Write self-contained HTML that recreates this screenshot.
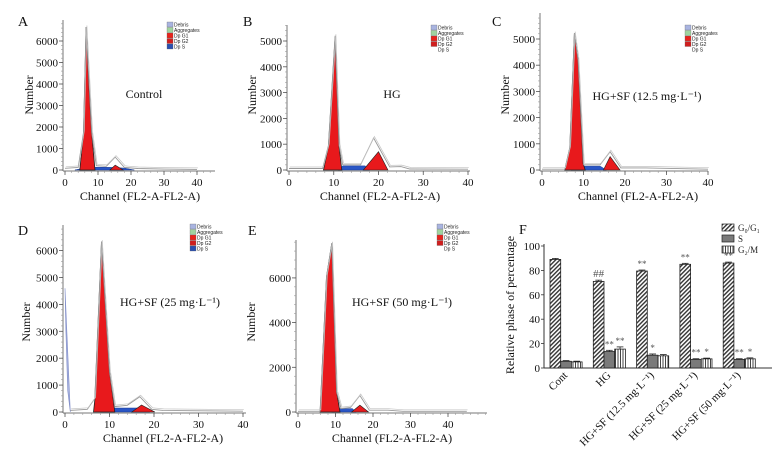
<!DOCTYPE html>
<html><head><meta charset="utf-8">
<style>
html,body{margin:0;padding:0;background:#fff;}
svg{display:block;font-family:"Liberation Serif",serif;}
</style></head>
<body>
<svg id="fig" width="782" height="452" viewBox="0 0 782 452" xmlns="http://www.w3.org/2000/svg">
<defs>
<pattern id="diag" patternUnits="userSpaceOnUse" width="3" height="3" patternTransform="rotate(45)">
<rect width="3" height="3" fill="#fff"/><rect width="1.4" height="3" fill="#333"/></pattern>
<pattern id="vert" patternUnits="userSpaceOnUse" width="2.5" height="3">
<rect width="2.5" height="3" fill="#fff"/><rect width="1" height="3" fill="#444"/></pattern>
</defs>
</svg>
<script>
// ---------- Histogram data (channel, count) ----------
const aG1Ch=[4.5,5.6,6.4,7.3,8.1,9.1], aG1Ct=[0,1700,6650,3800,1700,0];
const aG2Ch=[13.6,15.2,17.6], aG2Ct=[0,230,0];
const aSCh=[3,6,10,14,18,21], aSCt=[0,100,130,120,90,0];
const aTotCh=[0,4,5.6,6.4,8.1,9.5,12.5,15.2,18,22,30,40], aTotCt=[80,120,1750,6650,1750,200,170,600,120,70,40,30];

const bG1Ch=[7.7,8.8,10.3,11.2,11.8], bG1Ct=[0,900,5150,900,0];
const bG2Ch=[16.6,20,22.1], bG2Ct=[0,710,0];
const bSCh=[11,12,17,18], bSCt=[0,160,160,0];
const bTotCh=[0,7.5,8.8,10.3,11.2,12,16,18.9,22.5,25,27,40], bTotCt=[60,60,950,5200,950,200,200,1240,120,130,40,30];

const cG1Ch=[5.5,6.7,7.8,8.7,9.9,10.4], cG1Ct=[0,840,5220,4200,250,0];
const cG2Ch=[14.8,16.4,18.8], cG2Ct=[0,510,0];
const cSCh=[7,9,14,15.5], cSCt=[0,150,150,0];
const cTotCh=[0,5.5,6.7,7.8,8.7,10,14,16.4,19,22,25,40], cTotCt=[30,30,860,5220,4200,200,200,700,80,80,80,30];

const dDebCh=[0,0.2,0.6,1.2], dDebCt=[4600,3000,800,0];
const dG1Ch=[6.4,6.7,8.2,10,11.2], dG1Ct=[0,440,6330,1500,0];
const dG2Ch=[15,17.2,20.2], dG2Ct=[0,260,0];
const dSCh=[8,10,17,19], dSCt=[0,150,150,0];
const dTotCh=[1.2,5,6.7,8.2,10,11.2,14,16.8,19.5,22,40], dTotCt=[60,100,500,6330,1500,200,250,570,100,60,30];

const eG1Ch=[5.9,7.6,9,10.3,11.2], eG1Ct=[0,6050,7550,900,0];
const eG2Ch=[14.3,16.5,18.8], eG2Ct=[0,310,0];
const eSCh=[9,10.5,14.5,15.5], eSCt=[0,150,150,0];
const eTotCh=[0,5.9,7.6,9,10.3,11.5,14,16.5,19,24,28,45], eTotCt=[30,30,6050,7550,900,150,200,740,80,80,30,30];

// ---------- Bar chart data (panel F) ----------
const fGroups=["Cont","HG","HG+SF (12.5 mg·L⁻¹)","HG+SF (25 mg·L⁻¹)","HG+SF (50 mg·L⁻¹)"];
const fG0G1=[89,71,79.5,85,86];
const fS=[5.5,13.5,10.5,7,7];
const fG2M=[5,15.5,10,7.5,7.5];
const fErrG0=[0.8,1,0.8,0.8,0.8];
const fErrS=[0.6,1,1,0.6,0.6];
const fErrG2=[0.6,1.8,1,0.6,0.8];
const fMarkG0=["","##","**","**","**"];
const fMarkS=["","**","*","**","**"];
const fMarkG2=["","**","","*","*"];
const fTicks=[0,20,40,60,80,100];

const svg=document.getElementById('fig');
const NS='http://www.w3.org/2000/svg';
function mk(tag,at,parent){const e=document.createElementNS(NS,tag);for(const k in at)e.setAttribute(k,at[k]);(parent||svg).appendChild(e);return e;}
function txt(x,y,s,at,parent){const t=mk('text',Object.assign({x:x,y:y},at||{}),parent);t.textContent=s;return t;}

function panel(cfg){
  const g=mk('g',{});
  
  
  const X=c=>cfg.x0+c*cfg.px;
  const Y=v=>cfg.y0-v*cfg.py/1000;
  const poly=(chs,cts,fill,stroke,sw,name)=>{
    let pts=chs.map((c,i)=>X(c).toFixed(1)+','+Y(cts[i]).toFixed(1)).join(' ');
    const p=mk('polygon',{points:pts,fill:fill,stroke:stroke,'stroke-width':sw},g);
    
    
  };
  const line=(chs,cts,stroke,sw,name,dx)=>{
    let pts=chs.map((c,i)=>(X(c)+(dx||0)).toFixed(1)+','+(Y(cts[i])-(dx?1.5:0)).toFixed(1)).join(' ');
    const p=mk('polyline',{points:pts,fill:'none',stroke:stroke,'stroke-width':sw},g);
    
    
  };
  if(cfg.deb){poly(cfg.deb[0],cfg.deb[1],'#a9b4e0','#7f8cc8',0.6,'debris-area');}
  poly(cfg.s[0],cfg.s[1],'#2a56c6','#1a3a90',0.5,'dp-s-area');
  poly(cfg.g1[0],cfg.g1[1],'#e8191c','#222',0.8,'dp-g1-area');
  poly(cfg.g2[0],cfg.g2[1],'#e8191c','#222',0.6,'dp-g2-area');
  line(cfg.tot[0],cfg.tot[1],'#999',0.9,'total-fit-line');
  line(cfg.tot[0],cfg.tot[1],'#c4c4c4',0.7,'total-fit-line-2',0.8);
  const ax=cfg.x0-2;
  mk('line',{x1:ax,y1:cfg.top,x2:ax,y2:cfg.y0+1,stroke:'#777','stroke-width':1},g);
  mk('line',{x1:ax,y1:cfg.y0+1,x2:cfg.xend,y2:cfg.y0+1,stroke:'#777','stroke-width':1},g);
  for(let v=0;Y(v)>=cfg.top;v+=cfg.ystep/5){mk('line',{x1:ax-2,y1:Y(v),x2:ax,y2:Y(v),stroke:'#999','stroke-width':0.6},g);}
  for(let v=0;v<=cfg.ymax;v+=cfg.ystep){
    mk('line',{x1:ax-4,y1:Y(v),x2:ax,y2:Y(v),stroke:'#555','stroke-width':0.8},g);
    txt(ax-5,Y(v)+4,String(v),{'font-size':11,'text-anchor':'end',fill:'#111'},g);
  }
  for(let c=0;X(c)<=cfg.xend;c+=2){mk('line',{x1:X(c),y1:cfg.y0+1,x2:X(c),y2:cfg.y0+3,stroke:'#999','stroke-width':0.6},g);}
  for(let c=0;c<=40;c+=10){
    mk('line',{x1:X(c),y1:cfg.y0+1,x2:X(c),y2:cfg.y0+5,stroke:'#555','stroke-width':0.8},g);
    txt(X(c),cfg.y0+16,String(c),{'font-size':11,'text-anchor':'middle',fill:'#111'},g);
  }
  const xl=txt(cfg.xlx,cfg.y0+30,'Channel (FL2-A-FL2-A)',{'font-size':12,'text-anchor':'middle',fill:'#111'},g);
  
  
  if(cfg.ylx){
    const yl=txt(0,0,'Number',{'font-size':12,'text-anchor':'middle',fill:'#111',transform:'translate('+cfg.ylx+','+cfg.yly+') rotate(-90)'},g);
    
    
  }
  const pl=txt(cfg.lx,cfg.ly,cfg.id,{'font-size':14,fill:'#111'},g);
  
  
  const cond=txt(cfg.cx,cfg.cy,cfg.cond,{'font-size':12,'text-anchor':'middle',fill:'#111'},g);
  
  
  const cols=['#a9b4e0','#9fd49f','#e8231c','#d01e1e','#2a4fb0'];
  const names=['Debris','Aggregates','Dp G1','Dp G2','Dp S'];
  const lg=mk('g',{},g);
  
  
  for(let i=0;i<5;i++){
    if(i<4||cfg.id==='D'||cfg.id==='A'){mk('rect',{x:cfg.legx,y:cfg.legy+i*5.5,width:6,height:5,fill:cols[i],stroke:'#666','stroke-width':0.3},lg);}
    txt(cfg.legx+7,cfg.legy+i*5.5+4.5,names[i],{'font-size':5,'font-family':'Liberation Sans',fill:'#222'},lg);
  }
}

panel({id:'A',x0:65,px:3.3,y0:170,py:21.5,top:20,xend:215,ymax:6000,ystep:1000,
  g1:[aG1Ch,aG1Ct],g2:[aG2Ch,aG2Ct],s:[aSCh,aSCt],tot:[aTotCh,aTotCt],
  xlx:140,ylx:33,yly:95,lx:18,ly:26,cond:'Control',cx:144,cy:98,legx:167,legy:22});
panel({id:'B',x0:289,px:4.475,y0:170,py:25.8,top:25,xend:470,ymax:5000,ystep:1000,
  g1:[bG1Ch,bG1Ct],g2:[bG2Ch,bG2Ct],s:[bSCh,bSCt],tot:[bTotCh,bTotCt],
  xlx:380,ylx:256,yly:95,lx:243,ly:26,cond:'HG',cx:392,cy:98,legx:431,legy:25});
panel({id:'C',x0:542,px:4.15,y0:170,py:26.2,top:13,xend:708,ymax:5000,ystep:1000,
  g1:[cG1Ch,cG1Ct],g2:[cG2Ch,cG2Ct],s:[cSCh,cSCt],tot:[cTotCh,cTotCt],
  xlx:638,ylx:509,yly:95,lx:492,ly:26,cond:'HG+SF (12.5 mg·L⁻¹)',cx:647,cy:100,legx:685,legy:25});
panel({id:'D',x0:65,px:4.45,y0:412,py:26.9,top:225,xend:246,ymax:6000,ystep:1000,
  g1:[dG1Ch,dG1Ct],g2:[dG2Ch,dG2Ct],s:[dSCh,dSCt],tot:[dTotCh,dTotCt],deb:[dDebCh,dDebCt],
  xlx:163,ylx:30,yly:322,lx:18,ly:235,cond:'HG+SF (25 mg·L⁻¹)',cx:170,cy:306,legx:190,legy:224});
panel({id:'E',x0:298,px:3.75,y0:412,py:22.35,top:240,xend:487,ymax:6000,ystep:2000,
  g1:[eG1Ch,eG1Ct],g2:[eG2Ch,eG2Ct],s:[eSCh,eSCt],tot:[eTotCh,eTotCt],
  xlx:392,ylx:255,yly:322,lx:248,ly:235,cond:'HG+SF (50 mg·L⁻¹)',cx:402,cy:306,legx:437,legy:224});

(function(){
  const g=mk('g',{});
  
  
  const y0=368,y100=246,axX=544,xEnd=772;
  const Y=v=>y0-(y0-y100)*v/100;
  const bw=10.7,gap=43.3,gx0=550;
  mk('line',{x1:axX,y1:Y(100)-2,x2:axX,y2:y0,stroke:'#333','stroke-width':1},g);
  mk('line',{x1:axX,y1:y0,x2:xEnd,y2:y0,stroke:'#333','stroke-width':1},g);
  fTicks.forEach(v=>{
    mk('line',{x1:axX-3,y1:Y(v),x2:axX,y2:Y(v),stroke:'#333','stroke-width':0.8},g);
    txt(axX-4,Y(v)+4,String(v),{'font-size':11,'text-anchor':'end',fill:'#111'},g);
  });
  const series=[[fG0G1,fErrG0,fMarkG0,'url(#diag)','g0g1'],[fS,fErrS,fMarkS,'#7a7a7a','s'],[fG2M,fErrG2,fMarkG2,'url(#vert)','g2m']];
  fGroups.forEach((name,i)=>{
    series.forEach((s,j)=>{
      const x=gx0+i*gap+j*bw, v=s[0][i], e=s[1][i];
      const r=mk('rect',{x:x,y:Y(v),width:bw,height:y0-Y(v),fill:s[3],stroke:'#222','stroke-width':0.8},g);
      
      
      mk('line',{x1:x+bw/2,y1:Y(v),x2:x+bw/2,y2:Y(v+e),stroke:'#222','stroke-width':0.8},g);
      mk('line',{x1:x+2,y1:Y(v+e),x2:x+bw-2,y2:Y(v+e),stroke:'#222','stroke-width':0.8},g);
      if(s[2][i]){txt(x+bw/2,Y(v+e)-3,s[2][i],{'font-size':s[2][i]==='##'?11:9,'text-anchor':'middle',fill:'#555'},g);}
    });
    const cx=gx0+i*gap+bw*1.5;
    const t=txt(0,0,name,{'font-size':11,'text-anchor':'end',fill:'#111',transform:'translate('+(cx+2)+','+(y0+8)+') rotate(-45)'},g);
    
    
  });
  const yl=txt(0,0,'Relative phase of percentage',{'font-size':12,'text-anchor':'middle',fill:'#111',transform:'translate(514,305) rotate(-90)'},g);
  
  
  const pl=txt(519,234,'F',{'font-size':14,fill:'#111'},g);
  
  
  const lg=mk('g',{},g);
  
  
  const ln=['G₀/G₁','S','G₂/M'], lf=['url(#diag)','#7a7a7a','url(#vert)'];
  ln.forEach((n,k)=>{
    mk('rect',{x:722,y:224+k*11,width:12,height:7,fill:lf[k],stroke:'#222','stroke-width':0.7},lg);
    txt(738,231+k*11,n,{'font-size':9,fill:'#222'},lg);
  });
})();
</script>
</body></html>
